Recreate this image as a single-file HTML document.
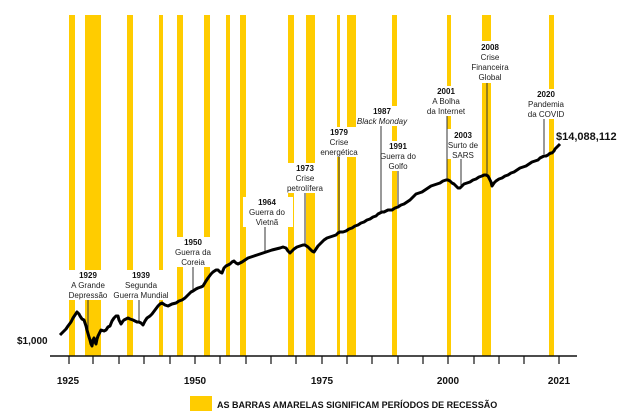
<!DOCTYPE html>
<html><head><meta charset="utf-8"><style>
body{margin:0;background:#fff;}
svg{display:block;font-family:"Liberation Sans",sans-serif;}
.y{font-weight:bold;font-size:8px;fill:#111;}
.l{font-size:8px;fill:#222;}
</style></head><body>
<svg width="620" height="415" viewBox="0 0 620 415">
<g fill="#FFCC00">
<rect x="69" y="15" width="6" height="341"/>
<rect x="85" y="15" width="16" height="341"/>
<rect x="127" y="15" width="6" height="341"/>
<rect x="159" y="15" width="4" height="341"/>
<rect x="177" y="15" width="6" height="341"/>
<rect x="204" y="15" width="6" height="341"/>
<rect x="226" y="15" width="4" height="341"/>
<rect x="240" y="15" width="6" height="341"/>
<rect x="288" y="15" width="6" height="341"/>
<rect x="306" y="15" width="9" height="341"/>
<rect x="337" y="15" width="3" height="341"/>
<rect x="347" y="15" width="9" height="341"/>
<rect x="392" y="15" width="5" height="341"/>
<rect x="447" y="15" width="4" height="341"/>
<rect x="482" y="15" width="9" height="341"/>
<rect x="549" y="15" width="5" height="341"/>
</g>
<g fill="#fff">
<rect x="60" y="270" width="50" height="30"/>
<rect x="112" y="270" width="58" height="30"/>
<rect x="172" y="237" width="42" height="30"/>
<rect x="243" y="197" width="50" height="30"/>
<rect x="282" y="163" width="46" height="30"/>
<rect x="316" y="127" width="46" height="30"/>
<rect x="357" y="106" width="52" height="20"/>
<rect x="378" y="141" width="40" height="30"/>
<rect x="425" y="86" width="46" height="30"/>
<rect x="444" y="129" width="36" height="30"/>
<rect x="468" y="41" width="46" height="42"/>
<rect x="524" y="89" width="46" height="30"/>
</g>
<g stroke="#333" stroke-width="1">
<line x1="88" y1="300" x2="88" y2="330"/>
<line x1="139" y1="300" x2="139" y2="322"/>
<line x1="193" y1="267" x2="193" y2="292"/>
<line x1="265" y1="227" x2="265" y2="253"/>
<line x1="305" y1="193" x2="305" y2="245"/>
<line x1="339" y1="157" x2="339" y2="232"/>
<line x1="381" y1="126" x2="381" y2="213"/>
<line x1="398" y1="171" x2="398" y2="208"/>
<line x1="447" y1="116" x2="447" y2="180"/>
<line x1="461" y1="159" x2="461" y2="185"/>
<line x1="487" y1="83" x2="487" y2="175"/>
<line x1="544" y1="119" x2="544" y2="154"/>
</g>
<g text-anchor="middle">
<text class="y" x="88" y="278">1929</text><text class="l" x="88" y="288">A Grande</text><text class="l" x="88" y="298">Depressão</text>
<text class="y" x="141" y="278">1939</text><text class="l" x="141" y="288">Segunda</text><text class="l" x="141" y="298">Guerra Mundial</text>
<text class="y" x="193" y="245">1950</text><text class="l" x="193" y="255">Guerra da</text><text class="l" x="193" y="265">Coreia</text>
<text class="y" x="267" y="205">1964</text><text class="l" x="267" y="215">Guerra do</text><text class="l" x="267" y="225">Vietnã</text>
<text class="y" x="305" y="171">1973</text><text class="l" x="305" y="181">Crise</text><text class="l" x="305" y="191">petrolífera</text>
<text class="y" x="339" y="135">1979</text><text class="l" x="339" y="145">Crise</text><text class="l" x="339" y="155">energética</text>
<text class="y" x="382" y="114">1987</text><text class="l" x="382" y="124" font-style="italic">Black Monday</text>
<text class="y" x="398" y="149">1991</text><text class="l" x="398" y="159">Guerra do</text><text class="l" x="398" y="169">Golfo</text>
<text class="y" x="446" y="94">2001</text><text class="l" x="446" y="104">A Bolha</text><text class="l" x="446" y="114">da Internet</text>
<text class="y" x="463" y="138">2003</text><text class="l" x="463" y="148">Surto de</text><text class="l" x="463" y="158">SARS</text>
<text class="y" x="490" y="50">2008</text><text class="l" x="490" y="60">Crise</text><text class="l" x="490" y="70">Financeira</text><text class="l" x="490" y="80">Global</text>
<text class="y" x="546" y="97">2020</text><text class="l" x="546" y="107">Pandemia</text><text class="l" x="546" y="117">da COVID</text>
</g>
<text x="556" y="140" font-weight="bold" font-size="11" fill="#111">$14,088,112</text>
<text x="17" y="344" font-weight="bold" font-size="10" fill="#111">$1,000</text>
<polyline fill="none" stroke="#000" stroke-width="3" stroke-linejoin="round" points="60,335 63,332 66,329 68,326 71,322 73,318 75,315 77,312 79,314 80,316 82,319 84,320 86,326 87,330 89,337 90,340 91,344 92,346 93,340 94,338 95,342 96,344 97,339 98,336 99,334 101,330 104,331 106,330 108,327 110,326 112,321 114,318 116,316 118,316 119,320 121,324 123,321 124,320 126,319 128,318 130,319 133,320 135,321 137,322 139,322 141,323 142,324 143,325 145,321 147,318 150,316 152,314 155,310 158,306 160,304 162,303 165,305 168,306 172,304 176,303 179,301 182,300 185,298 188,295 191,292 193,291 196,289 198,288 201,287 203,286 206,281 208,278 211,274 213,272 216,270 218,270 220,272 222,273 224,268 226,266 228,265 230,264 232,262 234,261 236,263 238,264 240,263 242,262 245,260 248,258 251,257 254,256 257,255 260,254 263,253 266,252 269,251 272,250 276,249 280,248 283,247 286,248 288,251 290,253 292,251 294,249 297,247 300,246 303,245 305,245 308,247 310,249 312,251 314,252 316,249 318,246 321,243 324,240 327,238 330,237 333,236 336,235 338,233 340,232 343,232 346,231 349,229 352,228 355,226 358,225 361,223 364,222 367,220 370,219 373,217 376,216 378,214 380,213 382,212 384,212 386,211 388,210 390,210 392,210 395,208 398,207 401,205 404,204 407,202 410,200 413,197 416,194 419,193 422,192 425,190 428,188 431,186 434,185 437,184 440,183 443,181 446,180 448,180 450,181 452,183 454,184 456,186 458,188 460,188 461,187 463,185 464,184 467,183 470,182 473,180 476,179 479,177 482,176 484,175 486,175 488,176 489,178 491,182 492,186 494,183 496,181 499,179 502,178 505,176 508,175 511,173 514,172 517,170 520,168 523,167 526,166 529,164 532,162 535,161 538,160 540,158 542,157 544,156 546,156 548,155 549,154 551,153 552,153 554,151 555,149 557,147 558,146 560,144"/>
<line x1="50" y1="356" x2="577" y2="356" stroke="#111" stroke-width="1.5"/>
<g stroke="#111" stroke-width="1.2">
<line x1="69" y1="356" x2="69" y2="364"/><line x1="93" y1="356" x2="93" y2="364"/><line x1="119" y1="356" x2="119" y2="364"/><line x1="144" y1="356" x2="144" y2="364"/><line x1="170" y1="356" x2="170" y2="364"/><line x1="195" y1="356" x2="195" y2="364"/><line x1="220" y1="356" x2="220" y2="364"/><line x1="246" y1="356" x2="246" y2="364"/><line x1="271" y1="356" x2="271" y2="364"/><line x1="296" y1="356" x2="296" y2="364"/><line x1="322" y1="356" x2="322" y2="364"/><line x1="347" y1="356" x2="347" y2="364"/><line x1="372" y1="356" x2="372" y2="364"/><line x1="398" y1="356" x2="398" y2="364"/><line x1="423" y1="356" x2="423" y2="364"/><line x1="448" y1="356" x2="448" y2="364"/><line x1="474" y1="356" x2="474" y2="364"/><line x1="499" y1="356" x2="499" y2="364"/><line x1="524" y1="356" x2="524" y2="364"/><line x1="559" y1="356" x2="559" y2="364"/>
</g>
<g text-anchor="middle" font-weight="bold" font-size="10" fill="#111">
<text x="68" y="384">1925</text><text x="195" y="384">1950</text><text x="322" y="384">1975</text><text x="448" y="384">2000</text><text x="559" y="384">2021</text>
</g>
<rect x="190" y="396" width="22" height="15" fill="#FFCC00"/>
<text x="217" y="408" font-weight="bold" font-size="9" fill="#111">AS BARRAS AMARELAS SIGNIFICAM PERÍODOS DE RECESSÃO</text>
</svg>
</body></html>
